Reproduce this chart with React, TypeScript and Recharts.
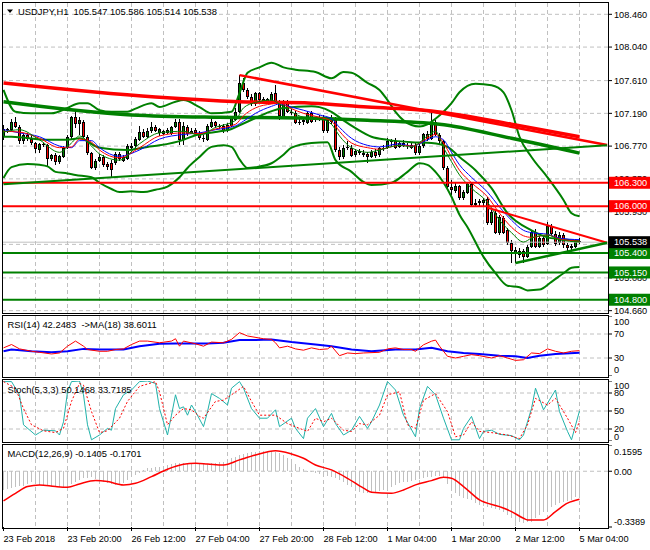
import React from 'react';
import { ComposedChart, Bar, Line, XAxis, YAxis, CartesianGrid, ReferenceLine } from 'recharts';

const FONT = "'Liberation Sans', Arial, sans-serif";
const FS = 9.2;
const GRID = '#c0c0c0';
const GREEN = '#008000';
const RED = '#ff0000';
const BLUE = '#0000ff';
const TEAL = '#20b2aa';

// ---------- candles (USDJPY H1) ----------
const opens = [
  106.89,106.99,106.98,107.08,107.02,106.83,106.91,106.86,106.81,106.72,
  106.80,106.78,106.60,106.66,106.56,106.63,106.74,106.89,107.14,107.05,
  107.08,106.89,106.68,106.49,106.58,106.63,106.54,106.55,106.55,106.67,
  106.58,106.60,106.77,106.77,106.85,106.95,106.89,106.96,107.01,106.94,
  106.96,106.94,106.92,107.01,107.08,106.85,107.01,106.93,106.98,106.94,
  106.88,106.85,107.02,107.08,107.03,107.03,106.97,107.03,107.10,107.21,
  107.58,107.49,107.40,107.31,107.45,107.33,107.37,107.35,107.45,107.34,
  107.14,107.34,107.21,107.20,107.07,107.08,107.07,107.19,107.10,107.11,
  107.14,106.96,107.08,107.11,106.72,106.63,106.75,106.75,106.65,106.71,
  106.68,106.67,106.63,106.70,106.66,106.74,106.74,106.83,106.84,106.76,
  106.81,106.77,106.78,106.78,106.68,106.77,106.92,106.86,107.08,106.91,
  106.83,106.49,106.25,106.20,106.26,106.10,106.17,106.28,106.01,106.04,
  106.04,106.09,105.79,105.91,105.66,105.85,105.69,105.53,105.39,105.43,
  105.43,105.35,105.48,105.67,105.48,105.59,105.52,105.74,105.64,105.53,
  105.63,105.50,105.46,105.48,105.547,
];
const highs = [
  107.04,107.00,107.12,107.14,107.04,106.92,106.94,106.91,106.82,106.81,
  106.81,106.80,106.67,106.68,106.66,106.77,106.91,107.16,107.21,107.14,
  107.10,106.91,106.69,106.60,106.67,106.66,106.57,106.59,106.69,106.69,
  106.66,106.80,106.81,106.89,107.03,106.99,107.00,107.08,107.04,107.00,
  106.98,107.00,107.03,107.12,107.12,107.08,107.04,107.00,107.00,106.96,
  106.91,107.05,107.13,107.09,107.05,107.05,107.07,107.16,107.26,107.68,
  107.64,107.52,107.44,107.46,107.46,107.40,107.39,107.46,107.55,107.36,
  107.36,107.36,107.25,107.22,107.12,107.13,107.22,107.22,107.14,107.17,
  107.17,107.13,107.17,107.14,106.76,106.78,106.84,106.78,106.73,106.73,
  106.72,106.69,106.72,106.73,106.76,106.78,106.87,106.86,106.87,106.84,
  106.85,106.81,106.81,106.81,106.80,106.94,106.96,107.21,107.10,106.94,
  106.85,106.51,106.34,106.30,106.27,106.21,106.31,106.31,106.09,106.09,
  106.10,106.12,105.95,105.94,105.89,105.87,105.72,105.57,105.48,105.46,
  105.45,105.50,105.69,105.71,105.62,105.62,105.80,105.77,105.68,105.67,
  105.66,105.53,105.51,105.58,105.586,
];
const lows = [
  106.85,106.94,106.96,107.00,106.80,106.80,106.84,106.78,106.68,106.68,
  106.76,106.51,106.58,106.53,106.54,106.62,106.73,106.86,107.00,106.91,
  106.87,106.66,106.48,106.46,106.57,106.50,106.46,106.38,106.53,106.58,
  106.57,106.59,106.72,106.73,106.84,106.87,106.87,106.94,106.95,106.90,
  106.91,106.92,106.91,107.00,106.78,106.78,106.90,106.92,106.92,106.85,
  106.82,106.84,107.00,107.00,106.99,106.94,106.95,107.01,107.09,107.19,
  107.46,107.37,107.28,107.28,107.34,107.31,107.31,107.34,107.32,107.10,
  107.12,107.19,107.17,107.05,107.04,107.04,107.05,107.07,107.08,107.09,
  106.94,106.94,107.05,106.69,106.59,106.60,106.72,106.63,106.63,106.66,
  106.63,106.55,106.62,106.62,106.63,106.71,106.73,106.76,106.73,106.75,
  106.76,106.73,106.73,106.66,106.66,106.75,106.84,106.85,106.90,106.80,
  106.46,106.21,106.14,106.17,106.08,106.08,106.16,105.99,105.99,106.00,
  106.00,105.76,105.76,105.64,105.63,105.64,105.50,105.27,105.27,105.34,
  105.27,105.34,105.46,105.46,105.46,105.48,105.50,105.62,105.49,105.50,
  105.46,105.43,105.43,105.46,105.514,
];
const closes = [
  106.99,106.98,107.08,107.02,106.83,106.91,106.86,106.81,106.73,106.80,
  106.78,106.60,106.66,106.56,106.64,106.75,106.89,107.14,107.05,107.11,
  106.89,106.68,106.49,106.58,106.63,106.53,106.50,106.47,106.67,106.60,
  106.63,106.77,106.75,106.86,106.95,106.89,106.97,107.01,106.97,106.99,
  106.93,106.98,107.01,107.08,106.85,107.03,106.93,106.97,106.94,106.88,
  106.86,107.03,107.08,107.03,107.01,106.96,107.04,107.13,107.21,107.58,
  107.49,107.40,107.31,107.45,107.36,107.38,107.33,107.44,107.34,107.15,
  107.34,107.21,107.19,107.07,107.08,107.10,107.19,107.08,107.13,107.14,
  106.96,107.10,107.13,106.72,106.63,106.75,106.76,106.64,106.71,106.68,
  106.66,106.63,106.70,106.64,106.74,106.75,106.83,106.84,106.75,106.81,
  106.77,106.78,106.75,106.68,106.77,106.92,106.86,107.08,106.91,106.83,
  106.49,106.25,106.21,106.26,106.10,106.18,106.28,106.01,106.04,106.06,
  106.08,105.79,105.92,105.66,105.86,105.66,105.53,105.42,105.44,105.37,
  105.35,105.48,105.67,105.48,105.59,105.50,105.74,105.64,105.51,105.63,
  105.50,105.46,105.49,105.56,105.538,
];

// ---------- main-panel indicators, read at sampled bars [bar, price] ----------
const maBluePts: [number, number][] = [
  [0,106.98],[4,106.94],[9,106.89],[14,106.77],[17,106.75],[19,106.84],[22,106.84],[24,106.75],[29,106.64],[34,106.72],
  [39,106.86],[45,106.92],[49,106.94],[53,106.98],[58,107.03],[60,107.09],[63,107.19],[67,107.28],[69,107.31],[72,107.27],
  [75,107.23],[79,107.17],[82,107.12],[84,107.01],[87,106.87],[91,106.78],[94,106.76],[99,106.80],[102,106.77],[106,106.85],
  [108,106.89],[110,106.85],[112,106.69],[114,106.53],[117,106.37],[121,106.18],[124,105.99],[127,105.82],[130,105.69],[132,105.66],
  [136,105.64],[139,105.59],[144,105.57],
];
const maRedPts: [number, number][] = [
  [0,106.96],[4,106.95],[9,106.87],[14,106.75],[17,106.76],[19,106.86],[22,106.82],[24,106.72],[29,106.62],[34,106.75],
  [39,106.90],[45,106.94],[49,106.93],[53,106.99],[58,107.05],[60,107.16],[63,107.26],[67,107.31],[69,107.32],[72,107.25],
  [75,107.19],[79,107.14],[82,107.09],[84,106.96],[87,106.81],[91,106.75],[94,106.73],[99,106.78],[102,106.77],[106,106.87],
  [108,106.92],[110,106.81],[112,106.63],[114,106.46],[117,106.30],[121,106.12],[124,105.91],[127,105.73],[130,105.62],[132,105.60],
  [136,105.63],[139,105.58],[144,105.55],
];
const maGreenPts: [number, number][] = [
  [0,106.95],[4,106.98],[9,106.85],[14,106.69],[17,106.81],[19,106.90],[22,106.77],[24,106.67],[29,106.59],[34,106.80],
  [39,106.94],[45,106.96],[49,106.91],[53,107.01],[58,107.10],[60,107.26],[63,107.33],[67,107.36],[69,107.31],[72,107.21],
  [75,107.14],[79,107.12],[82,107.05],[84,106.90],[87,106.75],[91,106.69],[94,106.72],[99,106.78],[102,106.76],[106,106.90],
  [108,106.96],[110,106.75],[112,106.57],[114,106.40],[117,106.23],[121,106.05],[124,105.82],[127,105.66],[130,105.54],[132,105.59],
  [136,105.63],[139,105.57],[144,105.54],
];
const bbUpperPts: [number, number][] = [
  [0,107.49],[3,107.21],[7,107.19],[12,107.19],[16,107.26],[19,107.32],[21,107.32],[24,107.23],[27,107.21],[31,107.21],
  [33,107.25],[37,107.32],[39,107.27],[43,107.34],[45,107.36],[49,107.27],[52,107.19],[57,107.21],[59,107.45],[61,107.71],
  [64,107.78],[67,107.84],[70,107.78],[73,107.75],[78,107.72],[82,107.64],[85,107.72],[87,107.71],[91,107.58],[94,107.49],
  [96,107.36],[98,107.21],[100,107.10],[102,107.04],[104,107.02],[106,107.05],[108,107.12],[110,107.21],[112,107.32],[114,107.46],
  [118,107.57],[122,107.55],[125,107.46],[127,107.23],[129,106.89],[132,106.63],[136,106.37],[140,106.08],[142,105.91],[144,105.87],
];
const bbMiddlePts: [number, number][] = [
  [0,106.89],[2,106.89],[11,106.85],[16,106.85],[19,106.87],[24,106.75],[31,106.72],[36,106.76],[39,106.78],[45,106.85],
  [48,106.91],[53,106.95],[57,106.99],[60,107.06],[63,107.13],[66,107.20],[70,107.26],[77,107.28],[79,107.27],[82,107.21],
  [85,107.10],[88,107.00],[92,106.89],[96,106.85],[102,106.82],[107,106.81],[111,106.76],[114,106.63],[118,106.46],[122,106.23],
  [126,105.91],[132,105.69],[136,105.60],[139,105.58],[144,105.55],
];
const bbLowerPts: [number, number][] = [
  [0,106.36],[2,106.50],[6,106.54],[9,106.53],[11,106.51],[13,106.44],[16,106.42],[18,106.40],[22,106.37],[24,106.30],
  [27,106.22],[29,106.18],[32,106.19],[35,106.18],[38,106.21],[41,106.25],[44,106.37],[46,106.49],[49,106.63],[52,106.76],
  [55,106.78],[57,106.76],[59,106.60],[61,106.49],[63,106.50],[67,106.55],[70,106.66],[72,106.75],[77,106.81],[81,106.82],
  [83,106.59],[87,106.44],[90,106.31],[92,106.27],[97,106.30],[101,106.44],[104,106.55],[106,106.53],[108,106.44],[112,106.12],
  [114,105.89],[116,105.73],[120,105.35],[123,105.14],[126,104.98],[129,104.96],[131,104.92],[134,104.93],[137,105.03],[140,105.14],
  [142,105.21],[144,105.22],
];
const slowRedPts: [number, number][] = [
  [0,107.58],[38,107.40],[59,107.34],[77,107.32],[91,107.27],[107,107.22],[114,107.17],[127,107.05],[144,106.89],
];
const slowGreenPts: [number, number][] = [
  [0,107.34],[32,107.17],[54,107.14],[74,107.13],[91,107.10],[109,107.05],[127,106.87],[144,106.68],
];

// ---------- drawn objects ----------
const levelPrices = [106.3, 106.0, 105.4, 105.15, 104.8];
const levelColors = [RED, RED, GREEN, GREEN, GREEN];
const lastPrice = 105.538;
const trendFrom: [number, number][] = [[59, 107.68], [121, 105.98], [0, 106.28], [128, 105.27]];
const trendTo: [number, number][] = [[150.9, 106.784], [150.9, 105.53], [150.9, 106.78], [150.9, 105.53]];
const trendColors = [RED, RED, GREEN, GREEN];
const trendWidths = [2.5, 2, 2, 2.5];

// ---------- sub-windows ----------
const rsiPts: [number, number][] = [
  [0,46.9],[2,52.5],[4,45.2],[7,41.2],[9,39.5],[12,36.7],[14,38.4],[16,49.7],[18,58.2],[20,49.7],
  [21,44.1],[24,41.2],[26,41.2],[28,44.1],[30,45.2],[32,52.5],[34,58.2],[36,58.2],[39,55.4],[42,58.2],
  [43,62.1],[44,49.7],[45,58.2],[48,53.7],[50,49.7],[52,56.5],[55,55.4],[57,61],[59,72.3],[61,66.7],
  [65,62.1],[67,61],[68,55.4],[69,46.9],[71,49.7],[73,45.2],[75,43],[77,46.9],[79,44.1],[81,45.2],
  [82,49.7],[84,33.9],[86,38.4],[88,37.3],[90,38.4],[94,39.5],[96,45.2],[98,46.9],[100,44.1],[102,44.1],
  [103,41.2],[105,52],[107,58],[108,59.9],[109,49.7],[111,32.8],[113,30],[115,32.8],[117,35.6],[119,33.9],
  [122,30],[124,33.9],[126,30],[128,26],[130,27.1],[132,38.4],[134,37.3],[136,45.2],[138,41.2],[140,38.4],
  [142,41.2],[144,42.25],
];
const rsiMaPts: [number, number][] = [
  [0,41.2],[2,44.1],[7,41.2],[12,39.5],[16,41.2],[20,45.2],[24,44.1],[30,44.1],[34,49.7],[39,53.7],
  [43,54.2],[47,54.2],[51,54.2],[55,55.4],[59,59.9],[63,59.9],[67,61],[72,56.5],[78,52.5],[82,49.7],
  [87,44.1],[92,41.2],[98,44.1],[103,44.1],[107,46.9],[111,41.2],[115,38.4],[119,36.7],[124,33.9],[128,32.8],
  [131,30],[134,33.9],[138,36.7],[144,38.6],
];
const stochKPts: [number, number][] = [
  [0,99],[2,99],[4,77],[5,27],[8,10],[9,14],[10,18],[13,17],[14,10],[15,32],
  [16,82],[17,99],[19,100],[20,77],[21,27],[22,2],[24,10],[26,21],[27,18],[28,54],
  [30,77],[32,85],[34,99],[36,100],[38,96],[39,54],[41,10],[42,43],[43,77],[44,54],
  [45,57],[46,43],[47,60],[48,49],[50,24],[51,49],[52,79],[54,71],[56,60],[57,88],
  [59,99],[60,88],[62,54],[64,38],[66,38],[68,52],[69,24],[72,38],[73,21],[75,4],
  [76,38],[78,54],[80,24],[82,46],[83,29],[85,10],[87,18],[89,41],[91,21],[92,32],
  [94,60],[96,99],[98,85],[100,43],[103,7],[104,54],[106,91],[108,77],[110,38],[112,2],
  [114,2],[115,21],[117,41],[119,4],[120,16],[122,18],[124,11],[127,9],[129,2],[130,10],
  [132,54],[133,88],[135,52],[138,85],[139,49],[141,16],[142,2],[144,50.15],
];
const stochDPts: [number, number][] = [
  [0,99],[3,88],[5,54],[7,27],[10,17],[13,14],[15,21],[17,66],[19,96],[20,93],
  [22,49],[24,14],[26,17],[29,38],[31,66],[34,91],[38,99],[39,82],[41,27],[43,43],
  [45,54],[47,52],[49,41],[50,38],[53,66],[55,68],[57,77],[60,91],[62,66],[64,43],
  [68,43],[71,29],[74,21],[76,16],[78,38],[80,32],[82,38],[85,18],[87,16],[89,29],
  [91,27],[94,43],[96,77],[99,82],[101,27],[103,21],[105,68],[108,79],[111,49],[113,7],
  [115,10],[117,32],[119,16],[122,14],[126,10],[129,4],[131,27],[133,71],[136,60],[138,71],
  [141,38],[143,14],[144,33.72],
];
const macdHist = [
  -0.117,-0.107,-0.102,-0.097,-0.092,-0.087,-0.075,-0.067,-0.075,-0.083,
  -0.088,-0.091,-0.093,-0.096,-0.097,-0.095,-0.093,-0.078,-0.063,-0.052,
  -0.043,-0.040,-0.037,-0.045,-0.053,-0.063,-0.073,-0.078,-0.083,-0.078,
  -0.073,-0.053,-0.033,-0.020,-0.008,0.005,0.018,0.022,0.025,0.028,
  0.033,0.038,0.043,0.048,0.050,0.052,0.050,0.048,0.046,0.044,
  0.044,0.044,0.048,0.052,0.055,0.058,0.068,0.079,0.089,0.099,
  0.106,0.113,0.116,0.119,0.121,0.123,0.125,0.122,0.119,0.110,
  0.099,0.080,0.058,0.043,0.028,0.013,-0.002,-0.007,-0.012,-0.017,
  -0.022,-0.028,-0.033,-0.043,-0.053,-0.068,-0.083,-0.098,-0.114,-0.124,
  -0.134,-0.132,-0.130,-0.125,-0.120,-0.114,-0.104,-0.093,-0.083,-0.073,
  -0.068,-0.063,-0.058,-0.053,-0.048,-0.043,-0.038,-0.033,-0.030,-0.028,
  -0.043,-0.080,-0.110,-0.134,-0.150,-0.164,-0.170,-0.174,-0.190,-0.205,
  -0.210,-0.215,-0.222,-0.228,-0.235,-0.250,-0.265,-0.285,-0.306,-0.311,
  -0.316,-0.311,-0.306,-0.285,-0.265,-0.250,-0.235,-0.220,-0.205,-0.195,
  -0.184,-0.179,-0.174,-0.157,-0.1405,
];
const macdSignalPts: [number, number][] = [
  [0,-0.180],[3,-0.134],[6,-0.093],[9,-0.083],[13,-0.093],[16,-0.097],[19,-0.077],[23,-0.057],[26,-0.063],[30,-0.083],
  [33,-0.073],[37,-0.033],[41,0.012],[45,0.042],[48,0.048],[51,0.044],[55,0.038],[59,0.069],[63,0.099],[68,0.125],
  [72,0.105],[75,0.079],[78,0.038],[82,0.008],[86,-0.043],[90,-0.103],[92,-0.128],[97,-0.134],[100,-0.114],[103,-0.083],
  [107,-0.057],[110,-0.037],[112,-0.043],[115,-0.093],[119,-0.174],[124,-0.215],[127,-0.245],[130,-0.286],[131,-0.296],[135,-0.296],
  [138,-0.245],[141,-0.194],[144,-0.1701],
];

// ---------- axes ----------
const priceTicks = [104.66, 105.08, 105.51, 105.93, 106.35, 106.77, 107.19, 107.61, 108.04, 108.46];
const hiddenPriceLabels = [105.51]; // fully covered by the current-price tag in the reference
const priceDomain: [number, number] = [104.63, 108.605];
const gridBars = [8,16,24,32,40,48,56,64,72,80,88,96,104,112,120,128,136,144];
const dateTicks = [0,16,32,48,64,80,96,112,128,144];
const dateLabels = ['23 Feb 2018','23 Feb 20:00','26 Feb 12:00','27 Feb 04:00','27 Feb 20:00','28 Feb 12:00','1 Mar 04:00','1 Mar 20:00','2 Mar 12:00','5 Mar 04:00'];
const xDomain: [number, number] = [-0.375, 151.125];

const toMap = (pts: [number, number][]) => new Map<number, number>(pts);
const mB = toMap(maBluePts), mR = toMap(maRedPts), mG = toMap(maGreenPts);
const mU = toMap(bbUpperPts), mM = toMap(bbMiddlePts), mL = toMap(bbLowerPts);
const mSR = toMap(slowRedPts), mSG = toMap(slowGreenPts);
const mRsi = toMap(rsiPts), mRsiMa = toMap(rsiMaPts), mK = toMap(stochKPts), mD = toMap(stochDPts), mSig = toMap(macdSignalPts);

const rows = closes.map((c, i) => ({
  i, o: opens[i], c, range: [lows[i], highs[i]],
  maB: mB.get(i), maR: mR.get(i), maG: mG.get(i),
  bbU: mU.get(i), bbM: mM.get(i), bbL: mL.get(i),
  sr: mSR.get(i), sg: mSG.get(i),
  rsi: mRsi.get(i), rsiMa: mRsiMa.get(i), k: mK.get(i), d: mD.get(i),
  macd: macdHist[i], sig: mSig.get(i),
}));

const Candle = (props: any) => {
  const { x, y, width, height, payload } = props;
  if (x == null || y == null || !payload) return null;
  const top = Math.min(y, y + height);
  const bot = Math.max(y, y + height);
  const [lo, hi] = payload.range;
  const span = hi - lo;
  const toY = (v: number) => (span > 0 ? top + ((hi - v) / span) * (bot - top) : top);
  const cx = Math.round(x + width / 2 - 0.5) + 0.5;
  const yo = toY(payload.o), yc = toY(payload.c);
  const bTop = Math.round(Math.min(yo, yc));
  const bBot = Math.max(Math.round(Math.max(yo, yc)), bTop + 1);
  const bull = payload.c >= payload.o;
  return (
    <g shapeRendering="crispEdges">
      <line x1={cx} x2={cx} y1={top} y2={bot} stroke="#000" strokeWidth={1} />
      <rect x={cx - 1.5} y={bTop} width={3} height={bBot - bTop} fill="#000" />
      {bBot - bTop > 2 && (
        <rect x={cx - 0.5} y={bTop + 1} width={1} height={bBot - bTop - 2} fill={bull ? GREEN : RED} />
      )}
    </g>
  );
};

const Hist = (props: any) => {
  const { x, y, width, height } = props;
  if (x == null || y == null) return null;
  const top = Math.min(y, y + height);
  const h = Math.abs(height);
  const cx = Math.round(x + width / 2 - 0.5);
  return <rect x={cx} y={top} width={1} height={Math.max(h, 0.5)} fill={GRID} shapeRendering="crispEdges" />;
};

const sideTick = (fmt: (v: number) => string, shift: Record<string, number>) => (p: any) => {
  const v = p.payload.value;
  return (
    <text x={p.x} y={p.y + (shift[String(v)] || 0)} dy="0.355em" textAnchor="start" fontSize={FS} fontFamily={FONT} fill="#000">
      {fmt(v)}
    </text>
  );
};

const DateTick = (p: any) => {
  const idx = dateTicks.indexOf(p.payload.value);
  return (
    <text x={p.x} y={p.y} dy="0.71em" textAnchor="start" fontSize={FS} fontFamily={FONT} fill="#000">
      {idx >= 0 ? dateLabels[idx] : ''}
    </text>
  );
};

const makeTag = (price: number, bg: string) => (p: any) => {
  const vb = p && p.viewBox;
  if (!vb) return null;
  const left = vb.x + vb.width + 1;
  return (
    <g>
      <rect x={left} y={vb.y - 6} width={42} height={12} fill={bg} />
      <text x={left + 5} y={vb.y} dy="0.355em" fontSize={FS} fontFamily={FONT} fill="#fff">{price.toFixed(3)}</text>
    </g>
  );
};

const lineProps = { dot: false, activeDot: false, connectNulls: true, isAnimationActive: false } as const;

const rightAxis = {
  orientation: 'right' as const,
  width: 42,
  allowDataOverflow: true,
  interval: 0 as const,
  tickSize: 4,
  tickMargin: 2,
  axisLine: false,
  tickLine: { stroke: '#000' },
};

export default function App() {
  return (
    <div style={{ position: 'absolute', left: 0, top: 0, width: 650, height: 550, background: '#fff', overflow: 'hidden' }}>
      {/* main price window */}
      <div style={{ position: 'absolute', left: 0, top: 0 }}>
        <ComposedChart width={650} height={316} data={rows} margin={{ top: 3, right: 0, bottom: 3, left: 2 }}>
          <XAxis dataKey="i" type="number" domain={xDomain} hide allowDataOverflow />
          <YAxis {...rightAxis} domain={priceDomain} ticks={priceTicks}
            tick={sideTick((v) => (hiddenPriceLabels.includes(v) ? '' : v.toFixed(3)), {})} />
          <CartesianGrid stroke={GRID} strokeDasharray="4 3" horizontalValues={priceTicks} verticalValues={gridBars} />
          <ReferenceLine y={lastPrice} stroke={GRID} strokeWidth={1} />
          <Bar dataKey="range" barSize={3} shape={Candle} isAnimationActive={false} />
          <Line dataKey="bbU" stroke={GREEN} strokeWidth={2} type="monotone" {...lineProps} />
          <Line dataKey="bbM" stroke={GREEN} strokeWidth={2} type="monotone" {...lineProps} />
          <Line dataKey="bbL" stroke={GREEN} strokeWidth={2} type="monotone" {...lineProps} />
          <Line dataKey="sg" stroke={GREEN} strokeWidth={3.5} type="monotone" {...lineProps} />
          <Line dataKey="sr" stroke={RED} strokeWidth={3.5} type="monotone" {...lineProps} />
          <Line dataKey="maB" stroke={BLUE} strokeWidth={1} type="monotone" {...lineProps} />
          <Line dataKey="maR" stroke={RED} strokeWidth={1} type="monotone" {...lineProps} />
          <Line dataKey="maG" stroke={GREEN} strokeWidth={1} type="monotone" {...lineProps} />
          {levelPrices.map((p, k) => (
            <ReferenceLine key={'lv' + k} y={p} stroke={levelColors[k]} strokeWidth={2} />
          ))}
          {trendFrom.map((f, k) => (
            <ReferenceLine
              key={'tr' + k}
              segment={[{ x: f[0], y: f[1] }, { x: trendTo[k][0], y: trendTo[k][1] }]}
              stroke={trendColors[k]}
              strokeWidth={trendWidths[k]}
            />
          ))}
        </ComposedChart>
      </div>
      {/* price tags overlay */}
      <div style={{ position: 'absolute', left: 0, top: 0, pointerEvents: 'none' }}>
        <ComposedChart width={650} height={316} data={rows} margin={{ top: 3, right: 0, bottom: 3, left: 2 }}>
          <XAxis dataKey="i" type="number" domain={xDomain} hide allowDataOverflow />
          <YAxis {...rightAxis} domain={priceDomain} ticks={priceTicks} tick={false} tickLine={false} />
          {levelPrices.map((p, k) => (
            <ReferenceLine key={'tg' + k} y={p} stroke="none" label={makeTag(p, levelColors[k])} />
          ))}
          <ReferenceLine y={lastPrice} stroke="none" label={makeTag(lastPrice, '#000')} />
        </ComposedChart>
      </div>
      {/* RSI */}
      <div style={{ position: 'absolute', left: 0, top: 316 }}>
        <ComposedChart width={650} height={60} data={rows} margin={{ top: 0, right: 0, bottom: 0, left: 2 }}>
          <XAxis dataKey="i" type="number" domain={xDomain} hide allowDataOverflow />
          <YAxis {...rightAxis} domain={[0, 100]} ticks={[0, 30, 70, 100]} tick={sideTick((v) => String(v), { '100': 6, '0': -6 })} />
          <CartesianGrid stroke={GRID} strokeDasharray="4 3" horizontalValues={[30, 70]} verticalValues={gridBars} />
          <Line dataKey="rsiMa" stroke={BLUE} strokeWidth={2} type="linear" {...lineProps} />
          <Line dataKey="rsi" stroke={RED} strokeWidth={1} type="linear" {...lineProps} />
        </ComposedChart>
      </div>
      {/* Stochastic */}
      <div style={{ position: 'absolute', left: 0, top: 381 }}>
        <ComposedChart width={650} height={60} data={rows} margin={{ top: 0, right: 0, bottom: 0, left: 2 }}>
          <XAxis dataKey="i" type="number" domain={xDomain} hide allowDataOverflow />
          <YAxis {...rightAxis} domain={[0, 100]} ticks={[0, 20, 50, 80, 100]} tick={sideTick((v) => String(v), { '100': 4.5, '0': -4 })} />
          <CartesianGrid stroke={GRID} strokeDasharray="4 3" horizontalValues={[20, 50, 80]} verticalValues={gridBars} />
          <Line dataKey="k" stroke={TEAL} strokeWidth={1} type="linear" {...lineProps} />
          <Line dataKey="d" stroke={RED} strokeWidth={1} strokeDasharray="2 2" type="linear" {...lineProps} />
        </ComposedChart>
      </div>
      {/* MACD */}
      <div style={{ position: 'absolute', left: 0, top: 445 }}>
        <ComposedChart width={650} height={104} data={rows} margin={{ top: 0, right: 0, bottom: 0, left: 2 }}>
          <XAxis
            dataKey="i" type="number" domain={xDomain} allowDataOverflow ticks={dateTicks} interval={0}
            height={22} tickSize={4} tickMargin={4} axisLine={false} tickLine={{ stroke: '#000' }} tick={DateTick}
          />
          <YAxis {...rightAxis} domain={[-0.3389, 0.1595]} ticks={[-0.3389, 0, 0.1595]}
            tick={sideTick((v) => (v === 0 ? '0.00' : v.toFixed(4)), { '0.1595': 7, '-0.3389': -5 })} />
          <CartesianGrid stroke={GRID} strokeDasharray="4 3" horizontalValues={[0]} verticalValues={gridBars} />
          <Bar dataKey="macd" barSize={1} shape={Hist} isAnimationActive={false} />
          <Line dataKey="sig" stroke={RED} strokeWidth={1.5} type="monotone" {...lineProps} />
        </ComposedChart>
      </div>
      {/* window frames */}
      {[
        [2, 312],
        [315, 63],
        [379, 64],
        [444, 85],
      ].map(([t, h], k) => (
        <div key={'bx' + k} style={{ position: 'absolute', left: 2, top: t, width: 607, height: h, border: '1px solid #000', boxSizing: 'border-box', pointerEvents: 'none' }} />
      ))}
      {/* window titles */}
      <svg width={650} height={550} style={{ position: 'absolute', left: 0, top: 0, pointerEvents: 'none' }}>
        <polygon points="7,9.5 13,9.5 10,13" fill="#000" />
        <text x={18} y={15} fontSize={9.4} fontFamily={FONT} fill="#000" style={{ whiteSpace: 'pre' }}>
          USDJPY,H1  105.547 105.586 105.514 105.538
        </text>
        <text x={7.5} y={328} fontSize={9.4} fontFamily={FONT} fill="#000" style={{ whiteSpace: 'pre' }}>
          RSI(14) 42.2483  -&gt;MA(18) 38.6011
        </text>
        <text x={7.5} y={393} fontSize={9.4} fontFamily={FONT} fill="#000" style={{ whiteSpace: 'pre' }}>
          Stoch(5,3,3) 50.1468 33.7185
        </text>
        <text x={7.5} y={457} fontSize={9.4} fontFamily={FONT} fill="#000" style={{ whiteSpace: 'pre' }}>
          MACD(12,26,9) -0.1405 -0.1701
        </text>
      </svg>
    </div>
  );
}
